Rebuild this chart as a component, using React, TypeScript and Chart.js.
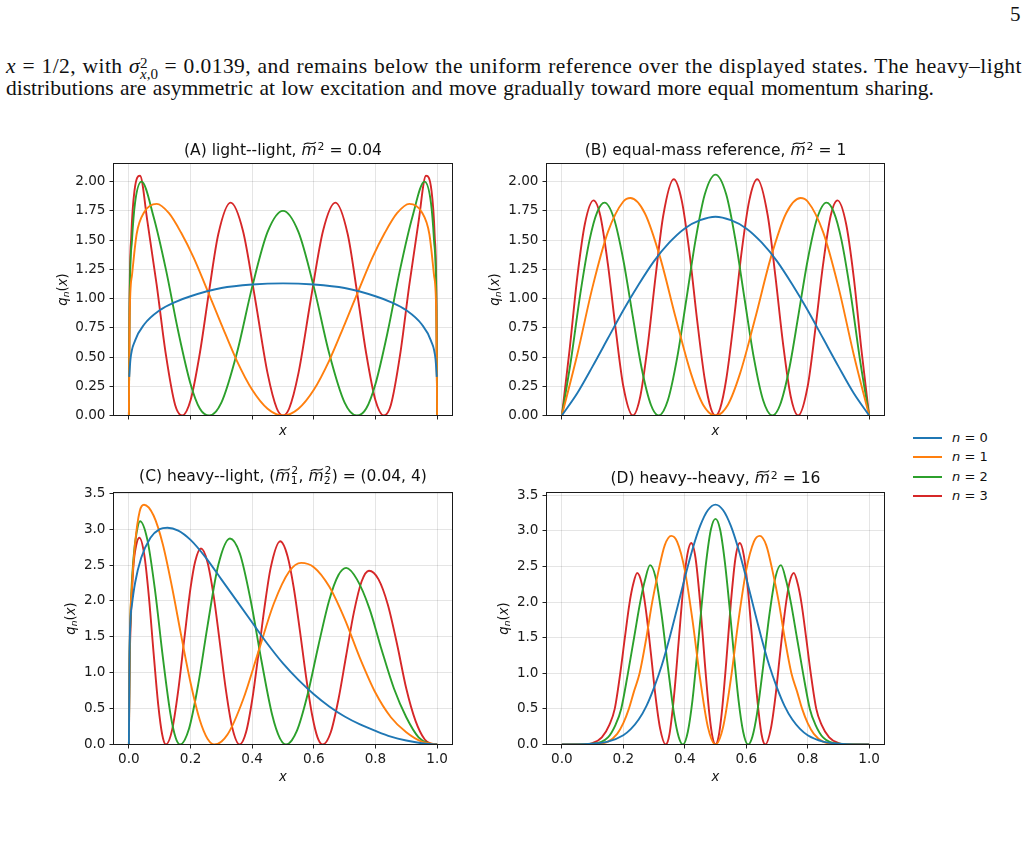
import React, { useEffect, useRef } from 'react';
import { Chart, registerables } from 'chart.js';

Chart.register(...registerables);

type Pt = [number, number];

const FAMILY = "'DejaVu Sans', sans-serif";
const SERIF = "'Liberation Serif', 'DejaVu Serif', serif";
const COLORS = ['#1f77b4', '#ff7f0e', '#2ca02c', '#d62728'];
const LEGEND_N = ['0', '1', '2', '3'];
const X_TICKS = [0, 0.2, 0.4, 0.6, 0.8, 1.0];
const Y_TICKS_AB = [0, 0.25, 0.5, 0.75, 1.0, 1.25, 1.5, 1.75, 2.0];
const Y_TICKS_CD = [0, 0.5, 1.0, 1.5, 2.0, 2.5, 3.0, 3.5];

// ---------- (A) light--light ----------
const A_Q0: Pt[] = [[0.001,0.33],[0.005,0.48],[0.02,0.64],[0.05,0.78],[0.1,0.9],[0.15,0.97],[0.2,1.02],[0.3,1.09],[0.4,1.12],[0.5,1.13],[0.6,1.12],[0.7,1.09],[0.8,1.02],[0.85,0.97],[0.9,0.9],[0.95,0.78],[0.98,0.64],[0.995,0.48],[0.999,0.33]];
const A_Q1: Pt[] = [[0,0],[0.002,0.8],[0.01,1.2],[0.025,1.55],[0.05,1.74],[0.09,1.81],[0.13,1.73],[0.17,1.56],[0.21,1.35],[0.25,1.1],[0.3,0.78],[0.35,0.47],[0.4,0.22],[0.45,0.058],[0.5,0],[0.55,0.058],[0.6,0.22],[0.65,0.47],[0.7,0.78],[0.75,1.1],[0.79,1.35],[0.83,1.56],[0.87,1.73],[0.91,1.81],[0.95,1.74],[0.975,1.55],[0.99,1.2],[0.998,0.8],[1,0]];
const A_Q2: Pt[] = [[0,0],[0.002,0.9],[0.01,1.5],[0.02,1.82],[0.041,2.0],[0.08,1.7],[0.12,1.25],[0.16,0.72],[0.2,0.27],[0.23,0.06],[0.261,0],[0.3,0.11],[0.35,0.53],[0.4,1.1],[0.45,1.57],[0.5,1.75],[0.55,1.57],[0.6,1.1],[0.65,0.53],[0.7,0.11],[0.739,0],[0.77,0.06],[0.8,0.27],[0.84,0.72],[0.88,1.25],[0.92,1.7],[0.959,2.0],[0.98,1.82],[0.99,1.5],[0.998,0.9],[1,0]];
const A_Q3: Pt[] = [[0,0],[0.002,0.95],[0.008,1.55],[0.018,1.92],[0.036,2.05],[0.06,1.66],[0.09,1.12],[0.12,0.52],[0.15,0.09],[0.173,0],[0.2,0.13],[0.23,0.53],[0.26,1.06],[0.29,1.55],[0.33,1.82],[0.37,1.58],[0.41,0.99],[0.45,0.36],[0.48,0.06],[0.5,0],[0.52,0.06],[0.55,0.36],[0.59,0.99],[0.63,1.58],[0.67,1.82],[0.71,1.55],[0.74,1.06],[0.77,0.53],[0.8,0.13],[0.827,0],[0.85,0.09],[0.88,0.52],[0.91,1.12],[0.94,1.66],[0.964,2.05],[0.982,1.92],[0.992,1.55],[0.998,0.95],[1,0]];

// ---------- (B) equal-mass reference ----------
const B_Q0: Pt[] = [[0,0],[0.05,0.19],[0.1,0.42],[0.15,0.66],[0.2,0.9],[0.25,1.12],[0.3,1.32],[0.35,1.48],[0.4,1.6],[0.45,1.67],[0.5,1.7],[0.55,1.67],[0.6,1.6],[0.65,1.48],[0.7,1.32],[0.75,1.12],[0.8,0.9],[0.85,0.66],[0.9,0.42],[0.95,0.19],[1,0]];
const B_Q1: Pt[] = [[0,0],[0.05,0.52],[0.1,1.1],[0.15,1.57],[0.2,1.83],[0.223,1.86],[0.27,1.73],[0.32,1.35],[0.37,0.84],[0.42,0.36],[0.46,0.09],[0.5,0],[0.54,0.09],[0.58,0.36],[0.63,0.84],[0.68,1.35],[0.73,1.73],[0.777,1.86],[0.8,1.83],[0.85,1.57],[0.9,1.1],[0.95,0.52],[1,0]];
const B_Q2: Pt[] = [[0,0],[0.03,0.48],[0.06,1.04],[0.09,1.5],[0.115,1.74],[0.139,1.82],[0.17,1.68],[0.2,1.33],[0.23,0.86],[0.26,0.4],[0.29,0.09],[0.315,0],[0.345,0.13],[0.375,0.49],[0.405,0.99],[0.435,1.5],[0.465,1.89],[0.5,2.06],[0.535,1.89],[0.565,1.5],[0.595,0.99],[0.625,0.49],[0.655,0.13],[0.685,0],[0.71,0.09],[0.74,0.4],[0.77,0.86],[0.8,1.33],[0.83,1.68],[0.861,1.82],[0.885,1.74],[0.91,1.5],[0.94,1.04],[0.97,0.48],[1,0]];
const B_Q3: Pt[] = [[0,0],[0.025,0.56],[0.05,1.18],[0.075,1.64],[0.103,1.84],[0.125,1.71],[0.15,1.29],[0.175,0.74],[0.2,0.25],[0.231,0],[0.255,0.16],[0.28,0.61],[0.305,1.19],[0.33,1.71],[0.364,2.02],[0.39,1.84],[0.415,1.4],[0.44,0.82],[0.465,0.31],[0.485,0.06],[0.5,0],[0.515,0.06],[0.535,0.31],[0.56,0.82],[0.585,1.4],[0.61,1.84],[0.636,2.02],[0.67,1.71],[0.695,1.19],[0.72,0.61],[0.745,0.16],[0.769,0],[0.8,0.25],[0.825,0.74],[0.85,1.29],[0.875,1.71],[0.897,1.84],[0.925,1.64],[0.95,1.18],[0.975,0.56],[1,0]];

// ---------- (C) heavy--light ----------
const C_Q0: Pt[] = [[0,0],[0.002,1.3],[0.01,1.95],[0.02,2.25],[0.04,2.6],[0.07,2.88],[0.1,3.0],[0.125,3.02],[0.16,2.98],[0.2,2.85],[0.25,2.6],[0.3,2.3],[0.35,2.0],[0.4,1.7],[0.45,1.4],[0.5,1.13],[0.55,0.9],[0.6,0.7],[0.65,0.53],[0.7,0.39],[0.75,0.28],[0.8,0.19],[0.85,0.11],[0.9,0.055],[0.95,0.017],[1,0]];
const C_Q1: Pt[] = [[0,0],[0.002,1.2],[0.01,2.2],[0.02,2.8],[0.035,3.25],[0.049,3.34],[0.08,3.19],[0.11,2.79],[0.14,2.19],[0.17,1.51],[0.2,0.86],[0.23,0.34],[0.255,0.08],[0.277,0],[0.32,0.14],[0.37,0.62],[0.42,1.29],[0.47,1.96],[0.52,2.41],[0.559,2.53],[0.6,2.47],[0.65,2.2],[0.7,1.75],[0.75,1.2],[0.8,0.72],[0.85,0.38],[0.9,0.17],[0.95,0.04],[1,0]];
const C_Q2: Pt[] = [[0,0],[0.002,1.1],[0.006,1.9],[0.015,2.6],[0.025,2.95],[0.036,3.11],[0.06,2.85],[0.085,2.14],[0.11,1.22],[0.135,0.42],[0.152,0.09],[0.166,0],[0.195,0.22],[0.225,0.84],[0.255,1.65],[0.29,2.5],[0.328,2.87],[0.36,2.66],[0.395,2.01],[0.43,1.17],[0.465,0.41],[0.49,0.085],[0.51,0],[0.545,0.19],[0.58,0.7],[0.615,1.38],[0.65,2.01],[0.68,2.36],[0.705,2.46],[0.74,2.3],[0.78,1.9],[0.82,1.32],[0.86,0.78],[0.9,0.38],[0.94,0.1],[0.97,0.02],[1,0]];
const C_Q3: Pt[] = [[0,0],[0.002,1.0],[0.006,1.7],[0.014,2.45],[0.024,2.78],[0.034,2.88],[0.05,2.64],[0.065,2.05],[0.08,1.28],[0.095,0.56],[0.108,0.14],[0.12,0],[0.14,0.2],[0.16,0.75],[0.18,1.48],[0.2,2.18],[0.215,2.55],[0.234,2.73],[0.255,2.54],[0.275,2.07],[0.295,1.42],[0.315,0.75],[0.335,0.24],[0.359,0],[0.38,0.17],[0.4,0.62],[0.42,1.25],[0.44,1.91],[0.46,2.46],[0.491,2.83],[0.515,2.62],[0.535,2.18],[0.555,1.58],[0.575,0.94],[0.595,0.4],[0.612,0.1],[0.629,0],[0.655,0.17],[0.68,0.63],[0.705,1.24],[0.73,1.84],[0.755,2.27],[0.779,2.42],[0.81,2.3],[0.84,1.95],[0.87,1.4],[0.9,0.78],[0.93,0.33],[0.96,0.07],[0.98,0.012],[1,0]];

// ---------- (D) heavy--heavy ----------
const D_Q0: Pt[] = [[0,0],[0.05,0],[0.1,0.01],[0.15,0.04],[0.2,0.13],[0.225,0.22],[0.25,0.35],[0.275,0.54],[0.3,0.8],[0.325,1.11],[0.35,1.49],[0.375,1.91],[0.4,2.34],[0.425,2.74],[0.45,3.07],[0.475,3.29],[0.5,3.37],[0.525,3.29],[0.55,3.07],[0.575,2.74],[0.6,2.34],[0.625,1.91],[0.65,1.49],[0.675,1.11],[0.7,0.8],[0.725,0.54],[0.75,0.35],[0.775,0.22],[0.8,0.13],[0.85,0.04],[0.9,0.01],[0.95,0],[1,0]];
const D_Q1: Pt[] = [[0,0],[0.1,0.005],[0.15,0.04],[0.18,0.15],[0.2,0.3],[0.218,0.5],[0.235,0.75],[0.253,1.0],[0.275,1.5],[0.294,2.0],[0.315,2.45],[0.335,2.8],[0.356,2.93],[0.375,2.85],[0.4,2.45],[0.425,1.75],[0.45,0.92],[0.475,0.25],[0.5,0],[0.525,0.25],[0.55,0.92],[0.575,1.75],[0.6,2.45],[0.625,2.85],[0.644,2.93],[0.665,2.8],[0.685,2.45],[0.706,2.0],[0.725,1.5],[0.747,1.0],[0.765,0.75],[0.782,0.5],[0.8,0.3],[0.82,0.15],[0.85,0.04],[0.9,0.005],[1,0]];
const D_Q2: Pt[] = [[0,0],[0.1,0.01],[0.15,0.1],[0.175,0.28],[0.193,0.5],[0.215,1.0],[0.235,1.5],[0.255,2.0],[0.27,2.3],[0.287,2.52],[0.305,2.35],[0.325,1.81],[0.345,1.09],[0.365,0.43],[0.38,0.11],[0.394,0],[0.41,0.18],[0.425,0.62],[0.44,1.26],[0.455,1.96],[0.47,2.58],[0.485,3.02],[0.5,3.17],[0.515,3.02],[0.53,2.58],[0.545,1.96],[0.56,1.26],[0.575,0.62],[0.59,0.18],[0.606,0],[0.62,0.11],[0.635,0.43],[0.655,1.09],[0.675,1.81],[0.695,2.35],[0.713,2.52],[0.73,2.3],[0.745,2.0],[0.765,1.5],[0.785,1.0],[0.807,0.5],[0.825,0.28],[0.85,0.1],[0.9,0.01],[1,0]];
const D_Q3: Pt[] = [[0,0],[0.08,0.005],[0.1,0.02],[0.13,0.1],[0.155,0.28],[0.172,0.5],[0.19,1.0],[0.205,1.5],[0.22,1.98],[0.232,2.25],[0.245,2.41],[0.26,2.26],[0.275,1.84],[0.29,1.27],[0.305,0.67],[0.32,0.22],[0.338,0],[0.35,0.14],[0.365,0.68],[0.38,1.44],[0.395,2.2],[0.408,2.66],[0.421,2.83],[0.435,2.62],[0.45,1.99],[0.465,1.16],[0.48,0.43],[0.49,0.11],[0.5,0],[0.51,0.11],[0.52,0.43],[0.535,1.16],[0.55,1.99],[0.565,2.62],[0.579,2.83],[0.592,2.66],[0.605,2.2],[0.62,1.44],[0.635,0.68],[0.65,0.14],[0.662,0],[0.68,0.22],[0.695,0.67],[0.71,1.27],[0.725,1.84],[0.74,2.26],[0.755,2.41],[0.768,2.25],[0.78,1.98],[0.795,1.5],[0.81,1.0],[0.828,0.5],[0.845,0.28],[0.87,0.1],[0.9,0.02],[0.92,0.005],[1,0]];

// ---------- titles ----------
type Seg = { t?: string; it?: boolean; tilde?: boolean; sup?: boolean; stack?: [string, string] };
const TITLE_A: Seg[] = [{ t: '(A) light--light, ' }, { t: 'm', it: true, tilde: true }, { t: '2', sup: true }, { t: ' = 0.04' }];
const TITLE_B: Seg[] = [{ t: '(B) equal-mass reference, ' }, { t: 'm', it: true, tilde: true }, { t: '2', sup: true }, { t: ' = 1' }];
const TITLE_C: Seg[] = [{ t: '(C) heavy--light, (' }, { t: 'm', it: true, tilde: true }, { stack: ['2', '1'] }, { t: ', ' }, { t: 'm', it: true, tilde: true }, { stack: ['2', '2'] }, { t: ') = (0.04, 4)' }];
const TITLE_D: Seg[] = [{ t: '(D) heavy--heavy, ' }, { t: 'm', it: true, tilde: true }, { t: '2', sup: true }, { t: ' = 16' }];

const TITLE_SIZE = 15.5;
const TICK_SIZE = 13.6;
const LABEL_SIZE = 13.2;

function drawTilde(ctx: CanvasRenderingContext2D, x: number, w: number, y: number, size: number) {
  const x0 = x + w * 0.1 + size * 0.06;
  const x1 = x + w * 0.9 + size * 0.06;
  const a = size * 0.075;
  ctx.beginPath();
  ctx.moveTo(x0, y + a);
  ctx.bezierCurveTo(x0 + (x1 - x0) * 0.35, y - 2.4 * a, x0 + (x1 - x0) * 0.65, y + 2.4 * a, x1, y - a);
  ctx.lineWidth = size * 0.07;
  ctx.stroke();
}

function drawRich(ctx: CanvasRenderingContext2D, segs: Seg[], cx: number, base: number, size: number) {
  const fN = `${size}px ${FAMILY}`;
  const fI = `italic ${size}px ${FAMILY}`;
  const fS = `${size * 0.7}px ${FAMILY}`;
  const widths = segs.map((s) => {
    if (s.stack) {
      ctx.font = fS;
      return Math.max(ctx.measureText(s.stack[0]).width, ctx.measureText(s.stack[1]).width) + size * 0.08;
    }
    ctx.font = s.it ? fI : s.sup ? fS : fN;
    return ctx.measureText(s.t || '').width + (s.sup ? size * 0.08 : 0);
  });
  const total = widths.reduce((p, v) => p + v, 0);
  let x = cx - total / 2;
  segs.forEach((s, i) => {
    if (s.stack) {
      ctx.font = fS;
      ctx.fillText(s.stack[0], x + size * 0.06, base - size * 0.42);
      ctx.fillText(s.stack[1], x + size * 0.02, base + size * 0.2);
    } else if (s.sup) {
      ctx.font = fS;
      ctx.fillText(s.t || '', x + size * 0.06, base - size * 0.27);
    } else {
      ctx.font = s.it ? fI : fN;
      ctx.fillText(s.t || '', x, base);
      if (s.tilde) drawTilde(ctx, x, widths[i], base - size * 0.72, size);
    }
    x += widths[i];
  });
}

function drawYLabel(ctx: CanvasRenderingContext2D, cx: number, cy: number, size: number) {
  const parts = [
    { t: 'q', f: `italic ${size}px ${FAMILY}`, dy: 0 },
    { t: 'n', f: `italic ${size * 0.7}px ${FAMILY}`, dy: size * 0.15 },
    { t: '(', f: `${size}px ${FAMILY}`, dy: 0 },
    { t: 'x', f: `italic ${size}px ${FAMILY}`, dy: 0 },
    { t: ')', f: `${size}px ${FAMILY}`, dy: 0 },
  ];
  const ws = parts.map((p) => {
    ctx.font = p.f;
    return ctx.measureText(p.t).width;
  });
  const total = ws.reduce((a, b) => a + b, 0);
  ctx.save();
  ctx.translate(cx, cy);
  ctx.rotate(-Math.PI / 2);
  let x = -total / 2;
  parts.forEach((p, i) => {
    ctx.font = p.f;
    ctx.fillText(p.t, x, size * 0.3 + p.dy);
    x += ws[i];
  });
  ctx.restore();
}

type PanelCfg = {
  key: string;
  box: { left: number; top: number; width: number; height: number };
  area: { left: number; top: number; right: number; bottom: number };
  yMax: number;
  yTicks: number[];
  yDigits: number;
  xLabels: boolean;
  series: Pt[][];
  title: Seg[];
  titleBase: number;
  yLabelX: number;
  xLabelBase: number;
};

const PANELS: PanelCfg[] = [
  { key: 'A', box: { left: 40, top: 130, width: 425, height: 320 }, area: { left: 113.5, top: 163.5, right: 452.5, bottom: 415.5 }, yMax: 2.155, yTicks: Y_TICKS_AB, yDigits: 2, xLabels: false, series: [A_Q0, A_Q1, A_Q2, A_Q3], title: TITLE_A, titleBase: 154.5, yLabelX: 63, xLabelBase: 434.5 },
  { key: 'B', box: { left: 470, top: 130, width: 430, height: 320 }, area: { left: 546.5, top: 163.5, right: 884.5, bottom: 415.5 }, yMax: 2.155, yTicks: Y_TICKS_AB, yDigits: 2, xLabels: false, series: [B_Q0, B_Q1, B_Q2, B_Q3], title: TITLE_B, titleBase: 154.5, yLabelX: 495.5, xLabelBase: 434.5 },
  { key: 'C', box: { left: 40, top: 455, width: 425, height: 340 }, area: { left: 113.5, top: 492.5, right: 452.5, bottom: 744.5 }, yMax: 3.51, yTicks: Y_TICKS_CD, yDigits: 1, xLabels: true, series: [C_Q0, C_Q1, C_Q2, C_Q3], title: TITLE_C, titleBase: 481, yLabelX: 71, xLabelBase: 781 },
  { key: 'D', box: { left: 470, top: 455, width: 430, height: 340 }, area: { left: 546.5, top: 492.5, right: 884.5, bottom: 744.5 }, yMax: 3.54, yTicks: Y_TICKS_CD, yDigits: 1, xLabels: true, series: [D_Q0, D_Q1, D_Q2, D_Q3], title: TITLE_D, titleBase: 483, yLabelX: 504, xLabelBase: 781 },
];

function Panel({ cfg }: { cfg: PanelCfg }) {
  const ref = useRef<HTMLCanvasElement>(null);
  useEffect(() => {
    const canvas = ref.current;
    if (!canvas) return;
    const { box, area } = cfg;
    const yW = area.left - box.left;
    const padTop = area.top - box.top;
    const padRight = box.left + box.width - area.right;
    const xH = box.top + box.height - area.bottom;
    const deco = {
      id: 'deco' + cfg.key,
      afterDatasetsDraw(chart: any) {
        const ctx: CanvasRenderingContext2D = chart.ctx;
        const ca = chart.chartArea;
        ctx.save();
        ctx.strokeStyle = '#1a1a1a';
        ctx.lineWidth = 1;
        ctx.strokeRect(ca.left, ca.top, ca.right - ca.left, ca.bottom - ca.top);
        ctx.restore();
      },
      afterDraw(chart: any) {
        const ctx: CanvasRenderingContext2D = chart.ctx;
        const ca = chart.chartArea;
        ctx.save();
        ctx.fillStyle = '#111';
        ctx.strokeStyle = '#111';
        ctx.textBaseline = 'alphabetic';
        ctx.textAlign = 'left';
        drawRich(ctx, cfg.title, (ca.left + ca.right) / 2, cfg.titleBase - box.top, TITLE_SIZE);
        drawYLabel(ctx, cfg.yLabelX - box.left, (ca.top + ca.bottom) / 2, LABEL_SIZE);
        ctx.font = `italic ${LABEL_SIZE}px ${FAMILY}`;
        ctx.textAlign = 'center';
        ctx.fillText('x', (ca.left + ca.right) / 2, cfg.xLabelBase - box.top);
        ctx.restore();
      },
    };
    const gridCommon = {
      color: 'rgba(0,0,0,0.1)',
      lineWidth: 1,
      drawTicks: true,
      tickLength: 4,
      tickColor: '#222',
      tickWidth: 1,
    };
    const chart = new Chart(canvas, {
      type: 'line',
      data: {
        datasets: cfg.series.map((s, i) => ({
          label: 'n = ' + LEGEND_N[i],
          data: s.map(([x, y]) => ({ x, y })),
          borderColor: COLORS[i],
          backgroundColor: COLORS[i],
          borderWidth: 1.9,
          pointRadius: 0,
          fill: false,
          cubicInterpolationMode: 'monotone' as const,
        })),
      },
      options: {
        animation: false,
        responsive: false,
        devicePixelRatio: 1,
        layout: { padding: { top: padTop, right: padRight, left: 0, bottom: 0 } },
        plugins: { legend: { display: false }, tooltip: { enabled: false }, title: { display: false } },
        scales: {
          x: {
            type: 'linear',
            min: -0.05,
            max: 1.05,
            afterBuildTicks: (s: any) => {
              s.ticks = X_TICKS.map((v) => ({ value: v }));
            },
            afterFit: (s: any) => {
              s.height = xH;
            },
            ticks: {
              display: cfg.xLabels,
              autoSkip: false,
              maxRotation: 0,
              padding: 3,
              color: '#1a1a1a',
              font: { family: FAMILY, size: TICK_SIZE },
              callback: (v: any) => Number(v).toFixed(1),
            },
            grid: gridCommon,
            border: { display: false },
          },
          y: {
            type: 'linear',
            min: 0,
            max: cfg.yMax,
            afterBuildTicks: (s: any) => {
              s.ticks = cfg.yTicks.map((v) => ({ value: v }));
            },
            afterFit: (s: any) => {
              s.width = yW;
            },
            ticks: {
              autoSkip: false,
              padding: 4,
              color: '#1a1a1a',
              font: { family: FAMILY, size: TICK_SIZE },
              callback: (v: any) => Number(v).toFixed(cfg.yDigits),
            },
            grid: gridCommon,
            border: { display: false },
          },
        },
      },
      plugins: [deco],
    } as any);
    return () => chart.destroy();
  }, [cfg]);
  return (
    <canvas
      ref={ref}
      width={cfg.box.width}
      height={cfg.box.height}
      style={{ position: 'absolute', left: cfg.box.left, top: cfg.box.top, width: cfg.box.width, height: cfg.box.height }}
    />
  );
}

const textLine: React.CSSProperties = {
  position: 'absolute',
  left: 6,
  fontFamily: SERIF,
  fontSize: 21.5,
  lineHeight: '22px',
  color: '#111',
  textAlign: 'justify',
  textAlignLast: 'justify' as any,
};

export default function App() {
  return (
    <div style={{ position: 'absolute', left: 0, top: 0, width: 1028, height: 842, overflow: 'hidden', background: '#fff' }}>
      <div style={{ position: 'absolute', left: 1010, top: 3, fontFamily: SERIF, fontSize: 21, lineHeight: '22px', color: '#111' }}>5</div>
      <div style={{ ...textLine, top: 54.5, width: 1016, letterSpacing: '0.45px' }}>
        <i>x</i> = 1/2, with <i>σ</i>
        <span style={{ display: 'inline-block', verticalAlign: '-0.45em', fontSize: '0.7em', lineHeight: '0.72em', textAlign: 'left', letterSpacing: 0 }}>
          2<br />
          <i>x</i>,0
        </span>{' '}
        = 0.0139, and remains below the uniform reference over the displayed states. The heavy–light
      </div>
      <div style={{ ...textLine, top: 76.5, width: 928, letterSpacing: 0 }}>
        distributions are asymmetric at low excitation and move gradually toward more equal momentum sharing.
      </div>
      {PANELS.map((p) => (
        <Panel key={p.key} cfg={p} />
      ))}
      {LEGEND_N.map((n, i) => (
        <React.Fragment key={n}>
          <div style={{ position: 'absolute', left: 913, top: 436.7 + i * 19.45, width: 29, height: 2, background: COLORS[i] }} />
          <div style={{ position: 'absolute', left: 952, top: 437.7 + i * 19.45 - 9, fontFamily: FAMILY, fontSize: 13, lineHeight: '18px', color: '#111', whiteSpace: 'nowrap' }}>
            <i>n</i> = {n}
          </div>
        </React.Fragment>
      ))}
    </div>
  );
}
